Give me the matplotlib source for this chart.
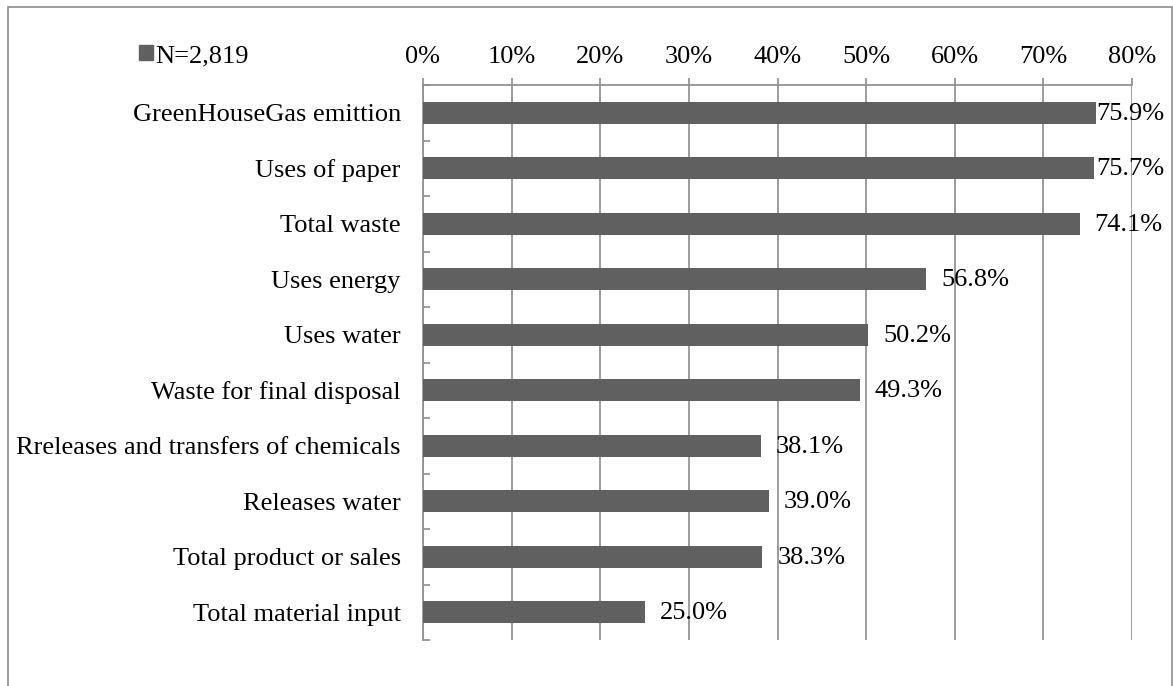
import numpy as np
import matplotlib.pyplot as plt
from matplotlib.patches import Patch, Rectangle

categories = [
    "GreenHouseGas emittion",
    "Uses of paper",
    "Total waste",
    "Uses energy",
    "Uses water",
    "Waste for final disposal",
    "Rreleases and transfers of chemicals",
    "Releases water",
    "Total product or sales",
    "Total material input",
]
values = [75.9, 75.7, 74.1, 56.8, 50.2, 49.3, 38.1, 39.0, 38.3, 25.0]
xticks = [0, 10, 20, 30, 40, 50, 60, 70, 80]
legend_label = "N=2,819"

plt.rcParams["font.family"] = ["Liberation Serif", "DejaVu Serif"]
plt.rcParams["font.size"] = 19

W, H = 1173, 686
fig = plt.figure(figsize=(W / 100, H / 100), dpi=100)
ax = fig.add_axes([423 / W, 1 - 640 / H, (1132 - 423) / W, (640 - 85) / H])

grey = "#8c8c8c"
bar_col = "#606060"
y = np.arange(len(categories))
ax.barh(y, values, height=0.4, color=bar_col, zorder=3)

ax.set_xlim(0, 80)
ax.set_ylim(len(categories) - 0.5, -0.5)
ax.set_xticks(xticks)
ax.set_xticklabels([f"{t}%" for t in xticks])
ax.xaxis.tick_top()
ax.tick_params(axis="x", length=5, width=1.2, color=grey, pad=7.5)
ax.grid(axis="x", color=grey, linewidth=1.2, zorder=0)

ax.set_yticks(y)
ax.set_yticklabels(categories)
ax.tick_params(axis="y", length=0, pad=16)
ax.set_yticks(np.arange(len(categories) + 1) - 0.5, minor=True)
ax.tick_params(axis="y", which="minor", direction="in", length=5, width=1.2, color=grey)

for s in ["right", "bottom"]:
    ax.spines[s].set_visible(False)
for s in ["top", "left"]:
    ax.spines[s].set_color(grey)
    ax.spines[s].set_linewidth(1.2)

# value labels: 15px right of the bar end, but kept inside the frame
to_px = ax.transData
from_px = ax.transData.inverted()
for yi, v in zip(y, values):
    px = to_px.transform((v, yi))[0] + 15
    px = min(px, 1096)
    xd = from_px.transform((px, 0))[0]
    ax.text(xd, yi + 0.02, f"{v:.1f}%", va="center", ha="left", zorder=4, clip_on=False)

fig.legend(handles=[Patch(color=bar_col)], labels=[legend_label], loc="center left",
           bbox_to_anchor=(126 / W, 1 - 56 / H), frameon=False, borderpad=0,
           handlelength=0.53, handleheight=0.53, handletextpad=0.06)

fig.patches.append(Rectangle((8 / W, -0.1), (1172 - 8) / W, 1.1 - 7 / H,
                             transform=fig.transFigure, fill=False,
                             edgecolor=grey, linewidth=1.2))

fig.savefig("out.png", dpi=100)
